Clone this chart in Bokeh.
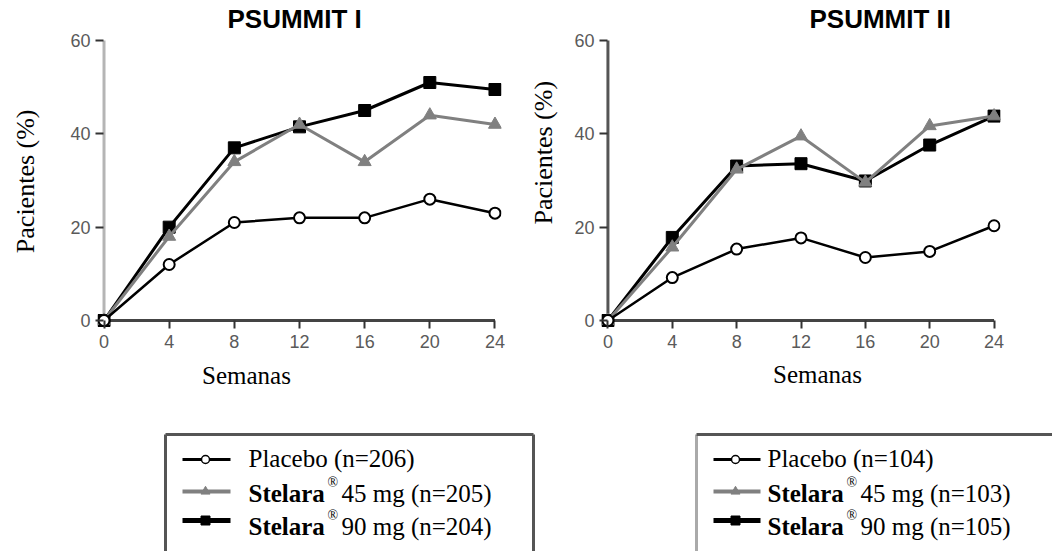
import math
from bokeh.plotting import figure
from bokeh.models import Range1d, Title, FixedTicker
from bokeh.layouts import column, row
from bokeh.embed import file_html
from bokeh.resources import INLINE
from bokeh.core.properties import value

# ---------------- data ----------------
weeks = [0, 4, 8, 12, 16, 20, 24]
y_ticks = [0, 20, 40, 60]

s1_placebo = [0, 12, 21, 22, 22, 26, 23]
s1_45mg = [0, 18, 34, 42, 34, 44, 42]
s1_90mg = [0, 20, 37, 41.5, 45, 51, 49.5]

s2_placebo = [0, 9.2, 15.3, 17.7, 13.5, 14.8, 20.3]
s2_45mg = [0, 15.7, 32.4, 39.5, 29.6, 41.7, 43.8]
s2_90mg = [0, 17.8, 33.1, 33.6, 29.9, 37.6, 43.8]

titles = ["PSUMMIT I", "PSUMMIT II"]
x_label = "Semanas"
y_label = "Pacientes (%)"
brand = "Stelara"
reg = "\u00ae"
legend1 = ["Placebo (n=206)", "45 mg (n=205)", "90 mg (n=204)"]
legend2 = ["Placebo (n=104)", "45 mg (n=103)", "90 mg (n=105)"]

SANS = "Liberation Sans"
SERIF = "Liberation Serif"
GRAY = "#808080"
CH = 360          # chart height
LH = 191          # lower strip height (x labels + legends)
FT, FH = 33, 294  # frame top / frame height
FB = FT + FH      # frame bottom (canvas px)


def blank(width, height, flip=False):
    p = figure(width=width, height=height, x_range=Range1d(0, width),
               y_range=Range1d(height, 0) if flip else Range1d(0, height),
               output_backend="svg", toolbar_location=None, title=None,
               x_axis_location=None, y_axis_location=None,
               min_border_left=0, min_border_right=0,
               min_border_top=0, min_border_bottom=0)
    p.grid.visible = False
    p.outline_line_color = None
    return p


def make_chart(title, placebo, m45, m90, width, bl, br, yaxis_color, title_off):
    p = figure(width=width, height=CH, x_range=Range1d(-0.4, 24.4),
               y_range=Range1d(-1.5, 61.5), output_backend="svg",
               toolbar_location=None, title=None,
               min_border_left=bl, min_border_right=br,
               min_border_top=FT, min_border_bottom=CH - FB)
    p.grid.visible = False
    p.outline_line_color = None

    # axis lines at the data origin
    p.line([weeks[0], weeks[0]], [y_ticks[0], y_ticks[-1]], color=yaxis_color,
           line_width=3)
    p.line([weeks[0], weeks[-1]], [y_ticks[0], y_ticks[0]], color="#444444",
           line_width=3)

    p.line(weeks, m90, color="black", line_width=3)
    p.scatter(weeks, m90, marker="square", size=12, fill_color="black",
              line_color="black")
    p.line(weeks, m45, color=GRAY, line_width=3)
    p.scatter(weeks, m45, marker="triangle", size=13, fill_color=GRAY,
              line_color=GRAY)
    p.line(weeks, placebo, color="black", line_width=2.5)
    p.scatter(weeks, placebo, marker="circle", size=11, fill_color="white",
              line_color="black", line_width=2)

    for ax in p.xaxis:
        ax.ticker = FixedTicker(ticks=weeks)
        ax.major_tick_in = 7
        ax.major_tick_out = 1
        ax.major_label_standoff = 6
    for ax in p.yaxis:
        ax.ticker = FixedTicker(ticks=y_ticks)
        ax.major_tick_in = 6
        ax.major_tick_out = 2
        ax.major_label_standoff = 5
    for ax in p.xaxis + p.yaxis:
        ax.axis_line_color = None
        ax.major_tick_line_color = "#333333"
        ax.major_tick_line_width = 2
        ax.minor_tick_line_color = None
        ax.major_label_text_font = SANS
        ax.major_label_text_font_size = "18px"
        ax.major_label_text_color = "#5a5a5a"

    p.add_layout(Title(text=title, align="left", offset=title_off,
                       vertical_align="bottom", standoff=0,
                       text_font=SANS, text_font_size="26px",
                       text_font_style="bold", text_color="black"), "above")
    return p


def make_ylabel(width, cx, cy):
    p = blank(width, CH)
    p.text(x=[cx], y=[CH - cy], text=[y_label], angle=math.pi / 2,
           text_font=value(SERIF), text_font_size="26px", text_align="center",
           text_baseline="middle", text_color="black")
    return p


def make_lower(width, labels, xlab_c, box_l, box_r, left_col, s0, s1, mk, tx):
    p = blank(width, LH, flip=True)
    p.text(x=[xlab_c[0]], y=[xlab_c[1]], text=[x_label], text_font=value(SERIF),
           text_font_size="25px", text_align="center", text_baseline="middle",
           text_color="black")
    top = 74
    p.segment(x0=[box_l], y0=[top], x1=[box_l], y1=[LH], line_color=left_col,
              line_width=3)
    right = box_r if box_r is not None else width
    p.segment(x0=[box_l], y0=[top], x1=[right], y1=[top], line_color="#555555",
              line_width=3)
    if box_r is not None:
        p.segment(x0=[box_r], y0=[top], x1=[box_r], y1=[LH],
                  line_color="#555555", line_width=3)

    rows = [99, 131, 160]
    bases = [98, 133, 166]
    p.line([s0, s1], [rows[0], rows[0]], color="black", line_width=3)
    p.scatter([mk], [rows[0]], marker="circle", size=8, fill_color="white",
              line_color="black", line_width=1.5)
    p.line([s0, s1], [rows[1], rows[1]], color=GRAY, line_width=4)
    p.scatter([mk], [rows[1]], marker="triangle", size=9, fill_color=GRAY,
              line_color=GRAY)
    p.line([s0, s1], [rows[2], rows[2]], color="black", line_width=5)
    p.scatter([mk], [rows[2]], marker="square", size=9, fill_color="black",
              line_color="black")

    rx, ax = tx + 79, tx + 93
    p.text(x=[tx], y=[bases[0]], text=[labels[0]], text_font=value(SERIF),
           text_font_size="25px", text_baseline="alphabetic", text_align="left",
           text_color="black")
    p.text(x=[tx, tx], y=[bases[1], bases[2]], text=[brand, brand],
           text_font=value(SERIF), text_font_size="25px",
           text_font_style="bold", text_baseline="alphabetic",
           text_align="left", text_color="black")
    p.text(x=[rx, rx], y=[bases[1] - 11, bases[2] - 11], text=[reg, reg],
           text_font=value(SERIF), text_font_size="14px",
           text_baseline="alphabetic", text_align="left", text_color="black")
    p.text(x=[ax, ax], y=[bases[1], bases[2]], text=[labels[1], labels[2]],
           text_font=value(SERIF), text_font_size="25px",
           text_baseline="alphabetic", text_align="left", text_color="black")
    return p


yl1 = make_ylabel(40, 25, 181)
c1 = make_chart(titles[0], s1_placebo, s1_45mg, s1_90mg, 480, 57, 19, "#b5b5b5",
                130)
yl2 = make_ylabel(40, 23, 146)
c2 = make_chart(titles[1], s2_placebo, s2_45mg, s2_90mg, 492, 41, 52, "#555555",
                208)

l1 = make_lower(608, legend1, (246, 15), 165, 533, "#555555", 182, 230, 205, 248)
l2 = make_lower(444, legend2, (817 - 608, 14), 88, None, "#aaaaaa",
                105, 152, 127, 159)

layout = column(row(yl1, c1, yl2, c2), row(l1, l2))
open("out.html", "w").write(file_html(layout, INLINE))
